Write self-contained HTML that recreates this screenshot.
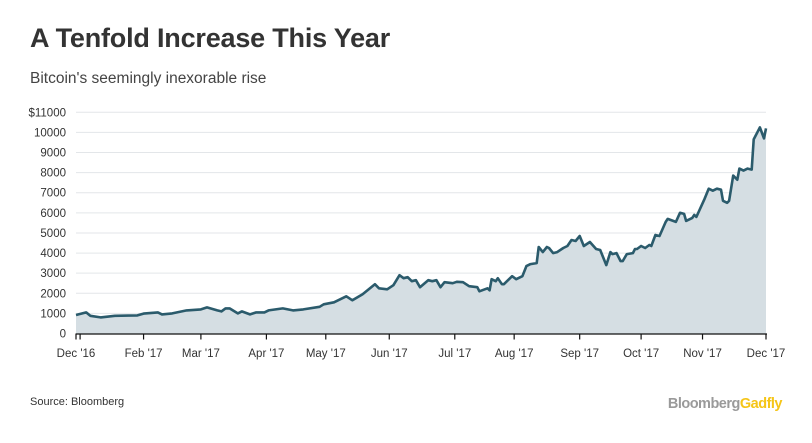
<!DOCTYPE html>
<html><head><meta charset="utf-8">
<style>
body{margin:0;background:#fff;width:812px;height:443px;overflow:hidden;font-family:"Liberation Sans",sans-serif}
#title{position:absolute;left:30px;top:23px;font-size:27px;font-weight:bold;color:#333;letter-spacing:-0.2px}
#sub{position:absolute;left:30px;top:70px;font-size:15.5px;color:#444}
#src{position:absolute;left:30px;top:396px;font-size:11px;color:#333}
#logo{position:absolute;right:30px;top:396px;font-size:14.5px;font-weight:bold;letter-spacing:-0.5px;color:#9a9a9a}
#logo span{color:#f5c518}
svg{position:absolute;left:0;top:0}
</style></head><body>
<div id="title">A Tenfold Increase This Year</div>
<div id="sub">Bitcoin's seemingly inexorable rise</div>
<svg id="chart" width="812" height="443"></svg>
<div id="src">Source: Bloomberg</div>
<div id="logo">Bloomberg<span>Gadfly</span></div>
<script>
const days=[0,5,7,12,19,30,33,40,42,47,54,61,64,69,71,73,75,79,81,85,88,92,94,101,106,111,119,121,126,132,135,140,146,148,152,155,158,160,162,164,166,168,172,174,176,178,180,184,186,189,192,196,197,201,202,203,205,206,208,209,213,215,218,220,222,225,226,228,230,231,233,235,238,240,242,244,246,248,251,254,256,259,261,262,264,266,267,269,272,273,274,276,278,280,281,283,285,288,289,293,295,297,298,301,302,303,307,309,311,313,315,316,318,319,321,323,324,326,328,330,331,334,336,337];
const prices=[920,1050,880,800,880,900,990,1050,950,1000,1150,1200,1300,1150,1100,1250,1250,1000,1100,950,1050,1050,1150,1250,1150,1200,1330,1450,1550,1850,1650,1950,2450,2250,2200,2400,2900,2750,2800,2600,2650,2300,2650,2600,2650,2300,2550,2500,2570,2550,2350,2300,2100,2250,2150,2700,2600,2750,2450,2450,2850,2700,2850,3350,3450,3500,4300,4050,4300,4250,4000,4050,4250,4350,4650,4600,4850,4350,4550,4200,4150,3400,4050,3950,4000,3600,3600,3950,4000,4200,4200,4350,4250,4400,4350,4900,4850,5550,5700,5550,6000,5950,5600,5750,5900,5800,6700,7200,7100,7200,7150,6600,6500,6600,7850,7650,8200,8100,8200,8150,9650,10250,9700,10200];
const yTicks=[0,1000,2000,3000,4000,5000,6000,7000,8000,9000,10000,11000];
const yTickLabels=["0","1000","2000","3000","4000","5000","6000","7000","8000","9000","10000","$11000"];
const xTickDays=[0,2,33,61,93,122,153,185,214,246,276,306,337];
const xTickLabels=["Dec '16","","Feb '17","Mar '17","Apr '17","May '17","Jun '17","Jul '17","Aug '17","Sep '17","Oct '17","Nov '17","Dec '17"];
const X0=76,X1=766,Y0=333.5,Y1=112.3;
const xs=d=>X0+(X1-X0)*d/337;
const ys=v=>Y0+(Y1-Y0)*v/11000;
const svg=document.getElementById('chart');
const NS='http://www.w3.org/2000/svg';
function mk(t,a){const e=document.createElementNS(NS,t);for(const k in a)e.setAttribute(k,a[k]);svg.appendChild(e);return e;}
yTicks.forEach((v,i)=>{
  if(v>0){const g=mk('line',{x1:X0,x2:X1,y1:ys(v),y2:ys(v),stroke:'#e3e6e9','stroke-width':1});
  
  }
  const t=mk('text',{x:66,y:ys(v)+4,'text-anchor':'end','font-size':11.5,fill:'#333','font-family':'Liberation Sans, sans-serif'});
  t.textContent=yTickLabels[i];
  
  
});
let d='M'+xs(days[0])+','+ys(0);
days.forEach((dd,i)=>{d+=' L'+xs(dd).toFixed(1)+','+ys(prices[i]).toFixed(1);});
d+=' L'+xs(days[days.length-1])+','+ys(0)+'Z';
const area=mk('path',{d:d,fill:'#d5dee3'});


const ld=days.map((dd,i)=>(i?'L':'M')+xs(dd).toFixed(1)+','+ys(prices[i]).toFixed(1)).join(' ');
const line=mk('path',{d:ld,fill:'none',stroke:'#2b5b6c','stroke-width':2.6,'stroke-linejoin':'round'});


const ax=mk('line',{x1:X0,x2:X1+1,y1:Y0+0.5,y2:Y0+0.5,stroke:'#111','stroke-width':1.2});


xTickDays.forEach((dd,i)=>{
  const tk=mk('line',{x1:xs(dd),x2:xs(dd),y1:Y0,y2:Y0+6,stroke:'#111','stroke-width':1.2});
  
  
  if(xTickLabels[i]){
    const t=mk('text',{x:xs(dd),y:357,'text-anchor':'middle','font-size':11.5,fill:'#333','font-family':'Liberation Sans, sans-serif'});
    t.textContent=xTickLabels[i];
    
    
  }
});
</script>
</body></html>
